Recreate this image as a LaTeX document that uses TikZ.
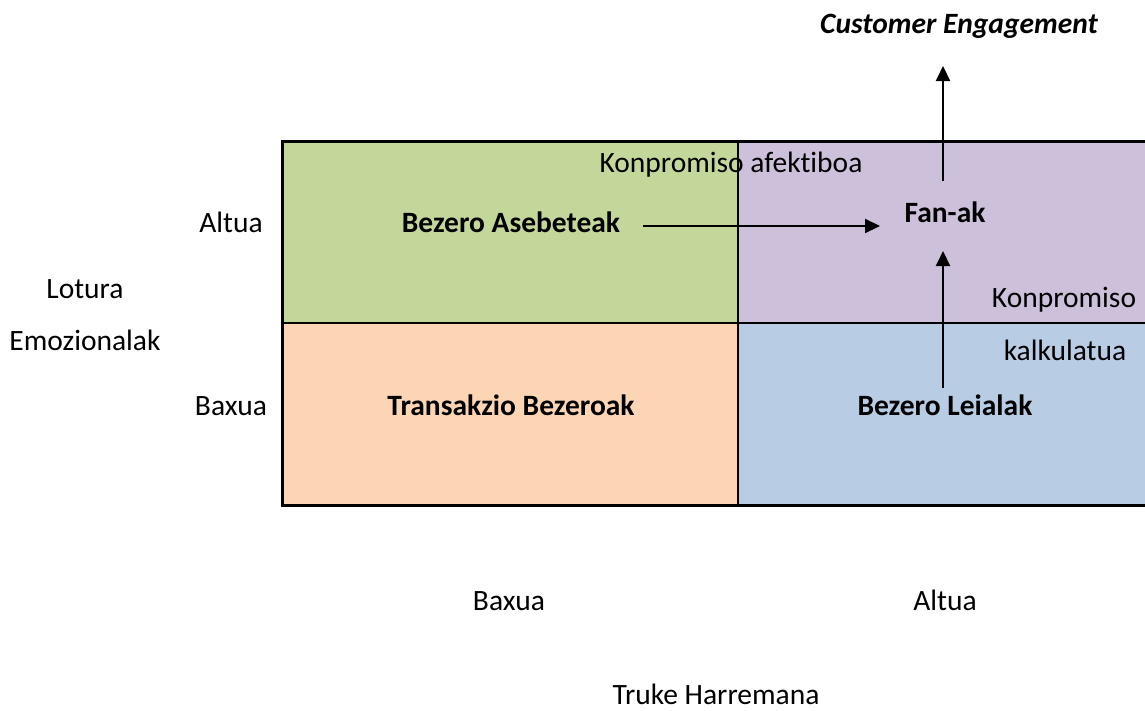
\documentclass[tikz,border=0pt]{standalone}
\usepackage{fontspec}
\setmainfont{Carlito}[Ligatures=NoCommon]
\usetikzlibrary{arrows.meta}
\definecolor{qgreen}{HTML}{C4D79B}
\definecolor{qpurple}{HTML}{CCC0DA}
\definecolor{qorange}{HTML}{FCD5B5}
\definecolor{qblue}{HTML}{B8CCE4}
\begin{document}
\begin{tikzpicture}[x=1pt,y=-1pt,
  every node/.style={font=\fontsize{29.5}{35}\selectfont, inner sep=0pt, anchor=base},
  bold/.style={font=\fontsize{29.5}{35}\selectfont\bfseries},
  flow/.style={line width=2pt, -{Triangle[length=15pt,width=14pt]}},
  cell/.style={draw=black, line width=2.6pt}]
\useasboundingbox (0,0) rectangle (1145,710);
% quadrant fills
\fill[qgreen]  (282,141) rectangle (738,323);
\fill[qpurple] (738,141) rectangle (1147,323);
\fill[qorange] (282,323) rectangle (738,505);
\fill[qblue]   (738,323) rectangle (1147,505);
% grid lines
\draw[cell, line width=3pt] (1150,141) -- (282,141) -- (282,505) -- (1150,505);
\draw[cell] (282,323) -- (1150,323);
\draw[cell] (738,141) -- (738,505);
% quadrant labels
\node[bold] (ase) at (511,232) {Bezero Asebeteak};
\node[bold] (fan) at (945,222) {Fan-ak};
\node[bold] (trans) at (511,415) {Transakzio Bezeroak};
\node[bold] (leial) at (945,415) {Bezero Leialak};
\node[font=\fontsize{29.5}{35}\selectfont\bfseries\itshape] (ce) at (959,33) {Customer Engagement};
\node (afek) at (731,172) {Konpromiso afektiboa};
\node (konp) at (1064,307) {Konpromiso};
\node (kalk) at (1065,360) {kalkulatua};
% axis labels
\node (yhigh) at (231,232) {Altua};
\node (ylow) at (231,415) {Baxua};
\node (lot) at (85,298) {Lotura};
\node (emo) at (85,350) {Emozionalak};
\node (xlow) at (509,610) {Baxua};
\node (xhigh) at (945,610) {Altua};
\node (truke) at (716,704) {Truke Harremana};
% arrow end points
\coordinate (h0) at (643,226);
\coordinate (h1) at (880,226);
\coordinate (v0) at (943,388);
\coordinate (v1) at (943,251);
\coordinate (u0) at (943,181);
\coordinate (u1) at (943,66);
\draw[flow] (h0) -- (h1);
\draw[flow] (v0) -- (v1);
\draw[flow] (u0) -- (u1);
\end{tikzpicture}
\end{document}
